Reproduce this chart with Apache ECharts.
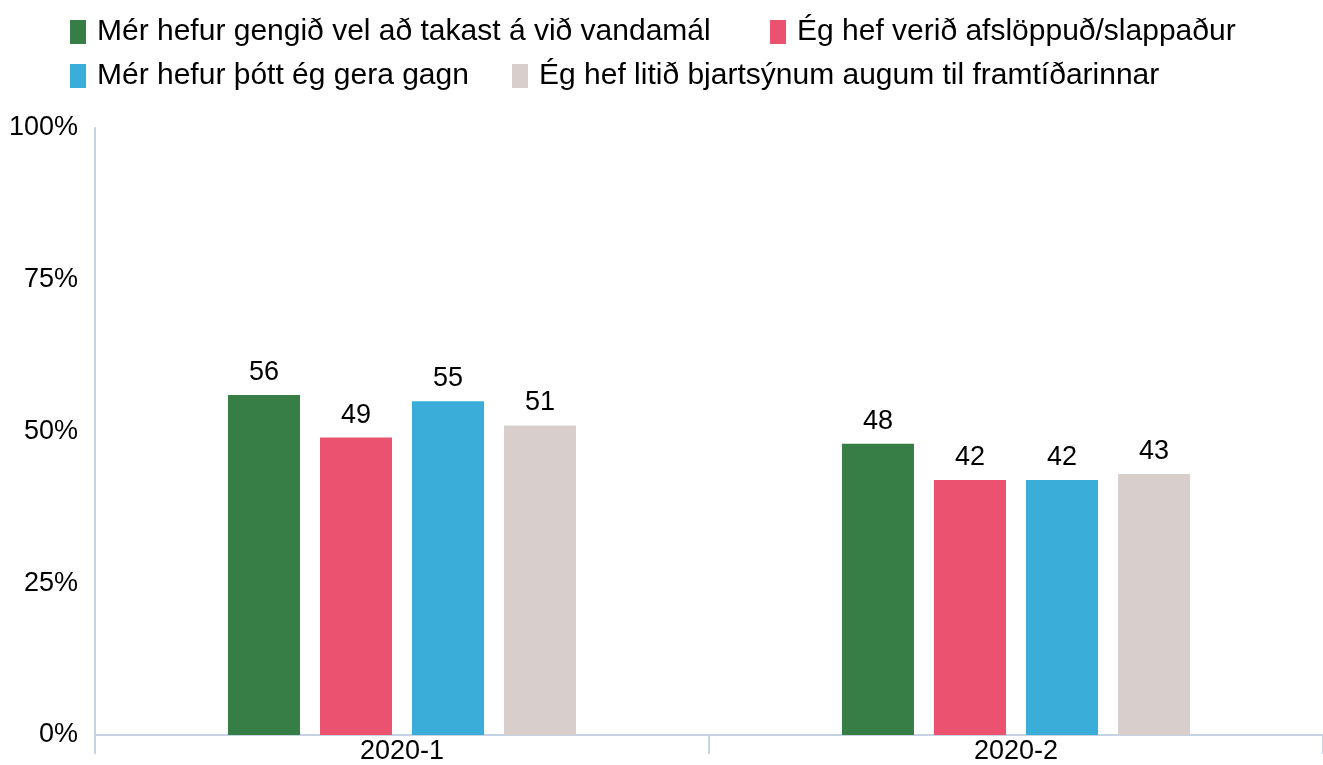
<!DOCTYPE html>
<html style="height: 100%">
<head>
    <meta charset="utf-8">
</head>
<body style="height: 100%; margin: 0">
<div id="container" style="height: 100%"></div>

<script type="text/javascript" src="https://cdn.jsdelivr.net/npm/echarts@6/dist/echarts.min.js"></script>
<script type="text/javascript">
    // gögn lesin af myndinni
    var categories = ['2020-1', '2020-2'];
    var seriesNames = [
        'Mér hefur gengið vel að takast á við vandamál',
        'Ég hef verið afslöppuð/slappaður',
        'Mér hefur þótt ég gera gagn',
        'Ég hef litið bjartsýnum augum til framtíðarinnar'
    ];
    var vandamal = [56, 48];
    var afslappud = [49, 42];
    var gagn = [55, 42];
    var bjartsyni = [51, 43];
    var yTicks = [0, 25, 50, 75, 100];

    var colors = ['#367e45', '#eb5270', '#3badd9', '#d8cfcd'];
    var values = [vandamal, afslappud, gagn, bjartsyni];

    var dom = document.getElementById("container");
    var myChart = echarts.init(dom);
    var font = 'Liberation Sans, Arial, sans-serif';
    var axisColor = '#c5d3e2';

    // ein legend fyrir hvern lið svo staðsetning passi
    var legendPos = [[70, 17], [770, 17], [70, 61], [512, 61]];
    var legends = legendPos.map(function (p, i) {
        return {
            data: [seriesNames[i]],
            left: p[0],
            top: p[1],
            padding: 0,
            icon: 'rect',
            itemWidth: 16,
            itemHeight: 24,
            selectedMode: false,
            textStyle: {
                fontFamily: font,
                fontSize: 30,
                color: '#000',
                padding: [0, 0, 0, 6]
            }
        };
    });

    var option = {
        animation: false,
        legend: legends,
        grid: {
            left: 95,
            top: 128,
            right: -4,
            bottom: 29,
            containLabel: false
        },
        xAxis: {
            type: 'category',
            data: categories,
            axisLine: {lineStyle: {color: axisColor, width: 2}},
            axisTick: {show: true, length: 19, lineStyle: {color: axisColor, width: 2}},
            axisLabel: {fontFamily: font, fontSize: 27, color: '#000', margin: 3}
        },
        yAxis: {
            type: 'value',
            min: 0,
            max: 100,
            interval: 25,
            axisLine: {show: true, lineStyle: {color: axisColor, width: 2}},
            axisTick: {show: false},
            splitLine: {show: false},
            axisLabel: {
                fontFamily: font,
                fontSize: 27,
                color: '#000',
                margin: 17,
                formatter: function (v) {
                    return yTicks.indexOf(v) >= 0 ? v + '%' : '';
                }
            }
        },
        series: values.map(function (d, i) {
            return {
                name: seriesNames[i],
                type: 'bar',
                data: d,
                barWidth: 72,
                barGap: '27.8%',
                itemStyle: {color: colors[i]},
                label: {
                    show: true,
                    position: 'top',
                    distance: 9,
                    fontFamily: font,
                    fontSize: 27,
                    color: '#000'
                }
            };
        })
    };

    myChart.setOption(option);
</script>
</body>
</html>
